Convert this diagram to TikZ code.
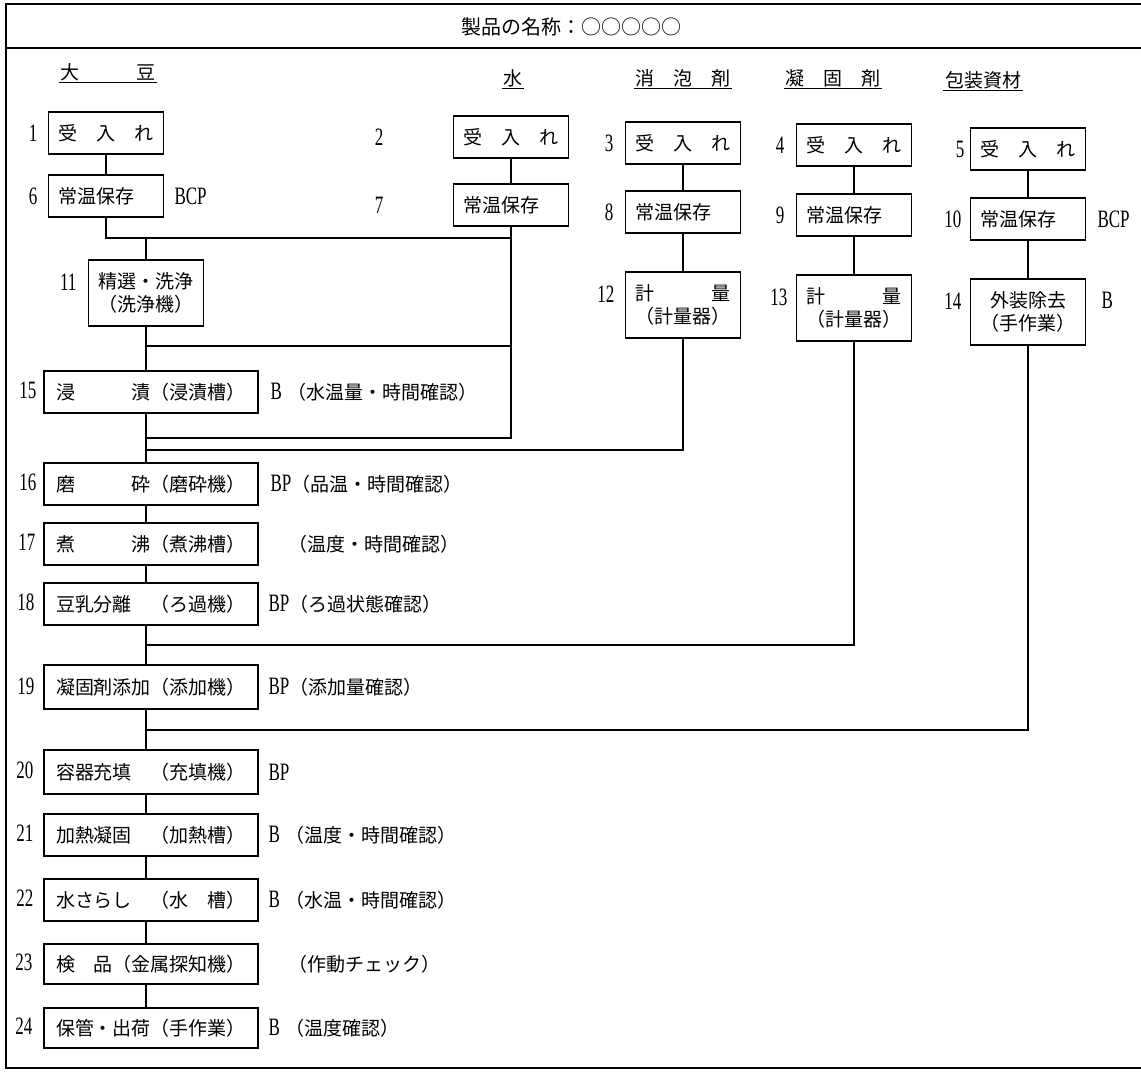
\documentclass[tikz,border=0pt]{standalone}
\usepackage{fontspec}
\setmainfont{Liberation Serif}
\newfontfamily\jp{Noto Sans CJK JP}
\newfontfamily\num[FakeStretch=0.68]{Liberation Serif}
\begin{document}
\begin{tikzpicture}[x=1pt,y=-1pt,line width=1.1pt,
  box/.style={draw,line width=1.1pt,inner ysep=0pt,font=\jp\fontsize{19pt}{23pt}\selectfont},
  sbox/.style={box,inner xsep=10pt,text width=95pt,minimum height=42pt},
  tbox/.style={box,inner xsep=10pt,text width=95pt,minimum height=66pt,align=center},
  mbox/.style={box,inner xsep=12pt,text width=190pt,minimum height=42pt,align=left},
  lab/.style={font=\num\fontsize{25pt}{28pt}\selectfont,inner sep=0pt,anchor=east},
  note/.style={font=\jp\fontsize{19pt}{23pt}\selectfont,inner sep=0pt,anchor=west},
  lat/.style={},
  head/.style={font=\jp\fontsize{19pt}{23pt}\selectfont,inner sep=1pt},
  ttl/.style={font=\jp\fontsize{20pt}{24pt}\selectfont,inner sep=0pt}]
\newcommand{\lt}[1]{{\num\fontsize{25pt}{28pt}\selectfont #1}}
\fill[white] (0,0) rectangle (1141,1087);
\useasboundingbox (0,0) rectangle (1141,1087);
% frame
\draw (1141,4) -- (6,4) -- (6,1068) -- (1141,1068);
\draw (6,48) -- (1141,48);
\node[ttl] (title) at (571,27) {製品の名称：○○○○○};
% column headers
\node[head] (h1) at (108,72) {大　　　豆};
\node[head] (h2) at (513,78) {水};
\node[head] (h3) at (683,78) {消　泡　剤};
\node[head] (h4) at (833,78) {凝　固　剤};
\node[head] (h5) at (983,80) {包装資材};
\foreach \h in {h1,h2,h3,h4,h5} \draw[line width=1pt] (\h.south west) -- (\h.south east);
% soybean column
\node[sbox,align=center] (b1) at (106,133) {受　入　れ};
\node[sbox,align=left] (b6) at (106,196) {常温保存};
\node[tbox] (b11) at (146,293) {精選・洗浄\\（洗浄機）};
% water
\node[sbox,align=center] (b2) at (511,137) {受　入　れ};
\node[sbox,align=left] (b7) at (511,205) {常温保存};
% antifoam
\node[sbox,align=center] (b3) at (683,143) {受　入　れ};
\node[sbox,align=left] (b8) at (683,212) {常温保存};
\node[tbox] (b12) at (683,305) {計　　　量\\（計量器）};
% coagulant
\node[sbox,align=center] (b4) at (854,145) {受　入　れ};
\node[sbox,align=left] (b9) at (854,215) {常温保存};
\node[tbox] (b13) at (854,308) {計　　　量\\（計量器）};
% packaging
\node[sbox,align=center] (b5) at (1028,149) {受　入　れ};
\node[sbox,align=left] (b10) at (1028,219) {常温保存};
\node[tbox] (b14) at (1028,312) {外装除去\\（手作業）};
% main line
\node[mbox] (b15) at (151,392) {浸　　　漬（浸漬槽）};
\node[mbox] (b16) at (151,484) {磨　　　砕（磨砕機）};
\node[mbox] (b17) at (151,544) {煮　　　沸（煮沸槽）};
\node[mbox] (b18) at (151,604) {豆乳分離　（ろ過機）};
\node[mbox,minimum height=44pt] (b19) at (151,687) {凝固剤添加（添加機）};
\node[mbox,minimum height=44pt] (b20) at (151,772) {容器充填　（充填機）};
\node[mbox] (b21) at (151,835) {加熱凝固　（加熱槽）};
\node[mbox] (b22) at (151,900) {水さらし　（水　槽）};
\node[mbox,minimum height=40pt] (b23) at (151,964) {検　品（金属探知機）};
\node[mbox,minimum height=40pt] (b24) at (151,1028) {保管・出荷（手作業）};
% step numbers
\node[lab] (n1) at (38,133) {1};
\node[lab] (n6) at (38,196) {6};
\node[lab] (n11) at (77,282) {11};
\node[lab] (n2) at (384,137) {2};
\node[lab] (n7) at (384,205) {7};
\node[lab] (n3) at (614,143) {3};
\node[lab] (n8) at (614,212) {8};
\node[lab] (n12) at (615,294) {12};
\node[lab] (n4) at (785,145) {4};
\node[lab] (n9) at (785,215) {9};
\node[lab] (n13) at (788,297) {13};
\node[lab] (n5) at (965,149) {5};
\node[lab] (n10) at (962,219) {10};
\node[lab] (n14) at (962,301) {14};
\node[lab] (n15) at (37,390) {15};
\node[lab] (n16) at (37,482) {16};
\node[lab] (n17) at (36,542) {17};
\node[lab] (n18) at (35,602) {18};
\node[lab] (n19) at (35,686) {19};
\node[lab] (n20) at (34,770) {20};
\node[lab] (n21) at (34,833) {21};
\node[lab] (n22) at (34,898) {22};
\node[lab] (n23) at (33,962) {23};
\node[lab] (n24) at (33,1026) {24};
% notes
\node[note] (a6) at (174,196) {\lt{BCP}};
\node[note] (a10) at (1097,219) {\lt{BCP}};
\node[note] (a14) at (1101,300) {\lt{B}};
\node[note] (a15) at (270,392) {\lt{B}\hspace{6pt}（水温量・時間確認）};
\node[note] (a16) at (270,484) {\lt{BP}（品温・時間確認）};
\node[note] (a17) at (288,544) {（温度・時間確認）};
\node[note] (a18) at (268,604) {\lt{BP}（ろ過状態確認）};
\node[note] (a19) at (268,687) {\lt{BP}（添加量確認）};
\node[note] (a20) at (268,772) {\lt{BP}};
\node[note] (a21) at (268,835) {\lt{B}\hspace{6pt}（温度・時間確認）};
\node[note] (a22) at (268,900) {\lt{B}\hspace{6pt}（水温・時間確認）};
\node[note] (a23) at (288,964) {（作動チェック）};
\node[note] (a24) at (268,1028) {\lt{B}\hspace{6pt}（温度確認）};
% connection points
\coordinate (sp) at (146,0);
\coordinate (jA) at (106,238);
\coordinate (jB) at (146,238);
\coordinate (jC) at (511,346);
\coordinate (cW) at (511,438);
\coordinate (c12) at (683,450);
\coordinate (c13) at (854,645);
\coordinate (c14) at (1028,730);
% connectors
\draw (b1.south) -- (b6.north);
\draw (b6.south) -- (jA) -- (jA -| cW);
\draw (jB) -- (b11.north);
\draw (b2.south) -- (b7.north);
\draw (b7.south) -- (cW) -- (cW -| sp);
\draw (jC) -- (jC -| sp);
\draw (b11.south) -- (b15.north -| sp);
\draw (b3.south) -- (b8.north);
\draw (b8.south) -- (b12.north);
\draw (b12.south) -- (c12) -- (c12 -| sp);
\draw (b4.south) -- (b9.north);
\draw (b9.south) -- (b13.north);
\draw (b13.south) -- (c13) -- (c13 -| sp);
\draw (b5.south) -- (b10.north);
\draw (b10.south) -- (b14.north);
\draw (b14.south) -- (c14) -- (c14 -| sp);
\draw (b15.south -| sp) -- (b16.north -| sp);
\draw (b16.south -| sp) -- (b17.north -| sp);
\draw (b17.south -| sp) -- (b18.north -| sp);
\draw (b18.south -| sp) -- (b19.north -| sp);
\draw (b19.south -| sp) -- (b20.north -| sp);
\draw (b20.south -| sp) -- (b21.north -| sp);
\draw (b21.south -| sp) -- (b22.north -| sp);
\draw (b22.south -| sp) -- (b23.north -| sp);
\draw (b23.south -| sp) -- (b24.north -| sp);
\end{tikzpicture}
\end{document}
